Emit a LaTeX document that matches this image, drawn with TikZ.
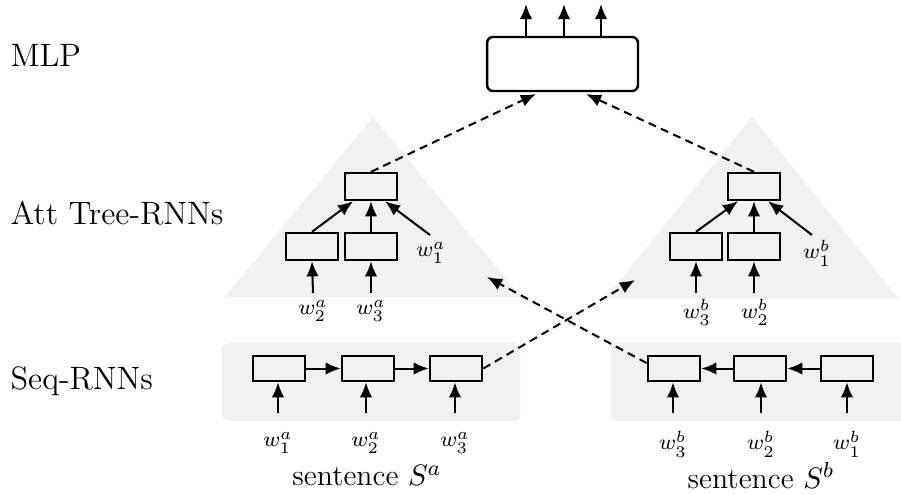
\documentclass[tikz,border=0pt]{standalone}
\usetikzlibrary{arrows.meta,calc}
\definecolor{panel}{RGB}{241,241,241}
\begin{document}
\begin{tikzpicture}[x=0.3704pt,y=-0.3704pt,
  box/.style={draw,line width=0.9pt,minimum width=19.3pt,minimum height=10pt,inner sep=0pt},
  seqbox/.style={box,minimum height=9.3pt},
  arr/.style={line width=0.75pt,-{Latex[length=5.6pt,width=4.6pt]}},
  darr/.style={arr,dash pattern=on 3pt off 2pt},
  lbl/.style={font=\fontsize{12}{14}\selectfont,anchor=base west,inner sep=0pt},
  wl/.style={font=\fontsize{8.5}{10}\selectfont,inner sep=0pt},
  sent/.style={font=\fontsize{11}{13}\selectfont,inner sep=0pt}]
\useasboundingbox (0,0) rectangle (901,494);

% backgrounds
\fill[panel] (373,117) -- (521,297) -- (225,297) -- cycle;
\fill[panel] (752,117) -- (898,298) -- (606,298) -- cycle;
\fill[panel,rounded corners=2pt] (222,343) rectangle (520,421);
\fill[panel,rounded corners=2pt] (611,343) rectangle (920,421);

% left labels
\node[lbl] (tmlp) at (10,66) {MLP};
\node[lbl] (tatt) at (10,224) {Att Tree-RNNs};
\node[lbl] (tseq) at (10,389) {Seq-RNNs};

% MLP
\node[draw,line width=0.9pt,rounded corners=2.2pt,minimum width=55.9pt,minimum height=20pt,inner sep=0pt] (mlp) at (562.5,64) {};
\coordinate (o1) at (526,4);
\coordinate (o2) at (564,4);
\coordinate (o3) at (601,4);
\draw[arr] (o1 |- mlp.north) -- (o1);
\draw[arr] (o2 |- mlp.north) -- (o2);
\draw[arr] (o3 |- mlp.north) -- (o3);
\coordinate (mi1) at (536,94);
\coordinate (mi2) at (586,94);

% left tree
\node[box] (lt) at (371,186.5) {};
\node[box] (lc1) at (312,246.5) {};
\node[box] (lc2) at (371,246.5) {};
\node[wl] (la1) at (431,253) {$w^a_1$};
\node[wl] (la2) at (313,311) {$w^a_2$};
\node[wl] (la3) at (371,311) {$w^a_3$};
\coordinate (ta1) at (430,235);
\coordinate (ta2) at (313,293);
\coordinate (ta3) at (371,293);
\draw[arr] (lc1.north) -- ($(lt.south)+(-18,0)$);
\draw[arr] (lc2.north) -- (lt.south);
\draw[arr] (ta1) -- ($(lt.south)+(14,0)$);
\draw[arr] (ta2) -- (lc1.south);
\draw[arr] (ta3) -- (lc2.south);

% right tree
\node[box] (rt) at (754,186.5) {};
\node[box] (rc1) at (696,246.5) {};
\node[box] (rc2) at (754,246.5) {};
\node[wl] (rb1) at (817,253) {$w^b_1$};
\node[wl] (rb3) at (697,312.5) {$w^b_3$};
\node[wl] (rb2) at (755,312.5) {$w^b_2$};
\coordinate (tb1) at (812,235);
\coordinate (tb3) at (696,293);
\coordinate (tb2) at (754,293);
\draw[arr] (rc1.north) -- ($(rt.south)+(-16,0)$);
\draw[arr] (rc2.north) -- (rt.south);
\draw[arr] (tb1) -- ($(rt.south)+(14,0)$);
\draw[arr] (tb3) -- (rc1.south);
\draw[arr] (tb2) -- (rc2.south);

% tree to MLP
\draw[darr] (lt.north) -- (mi1);
\draw[darr] (rt.north) -- (mi2);

% left seq
\node[seqbox] (sa1) at (279,368.5) {};
\node[seqbox] (sa2) at (368,368.5) {};
\node[seqbox] (sa3) at (456,368.5) {};
\draw[arr] (sa1) -- (sa2);
\draw[arr] (sa2) -- (sa3);
\node[wl] (wa1) at (278,443) {$w^a_1$};
\node[wl] (wa2) at (366,443) {$w^a_2$};
\node[wl] (wa3) at (455,443) {$w^a_3$};
\coordinate (sta1) at (278,413);
\coordinate (sta2) at (366,413);
\coordinate (sta3) at (455,413);
\draw[arr] (sta1) -- (sa1.south -| sta1);
\draw[arr] (sta2) -- (sa2.south -| sta2);
\draw[arr] (sta3) -- (sa3.south -| sta3);
\node[sent] (senta) at (367,476) {sentence $S^a$};

% right seq
\node[seqbox] (sb3) at (674,368.5) {};
\node[seqbox] (sb2) at (760,368.5) {};
\node[seqbox] (sb1) at (847,368.5) {};
\draw[arr] (sb1) -- (sb2);
\draw[arr] (sb2) -- (sb3);
\node[wl] (wb3) at (673,444) {$w^b_3$};
\node[wl] (wb2) at (761,444) {$w^b_2$};
\node[wl] (wb1) at (847,444) {$w^b_1$};
\coordinate (stb3) at (673,413);
\coordinate (stb2) at (761,413);
\coordinate (stb1) at (847,413);
\draw[arr] (stb3) -- (sb3.south -| stb3);
\draw[arr] (stb2) -- (sb2.south -| stb2);
\draw[arr] (stb1) -- (sb1.south -| stb1);
\node[sent] (sentb) at (761,476) {sentence $S^b$};

% crossing dashed
\coordinate (xr) at (635,280);
\coordinate (xl) at (487,277);
\draw[darr] (sa3.east) -- (xr);
\draw[darr] ([yshift=2pt]sb3.west) -- (xl);
\end{tikzpicture}
\end{document}
